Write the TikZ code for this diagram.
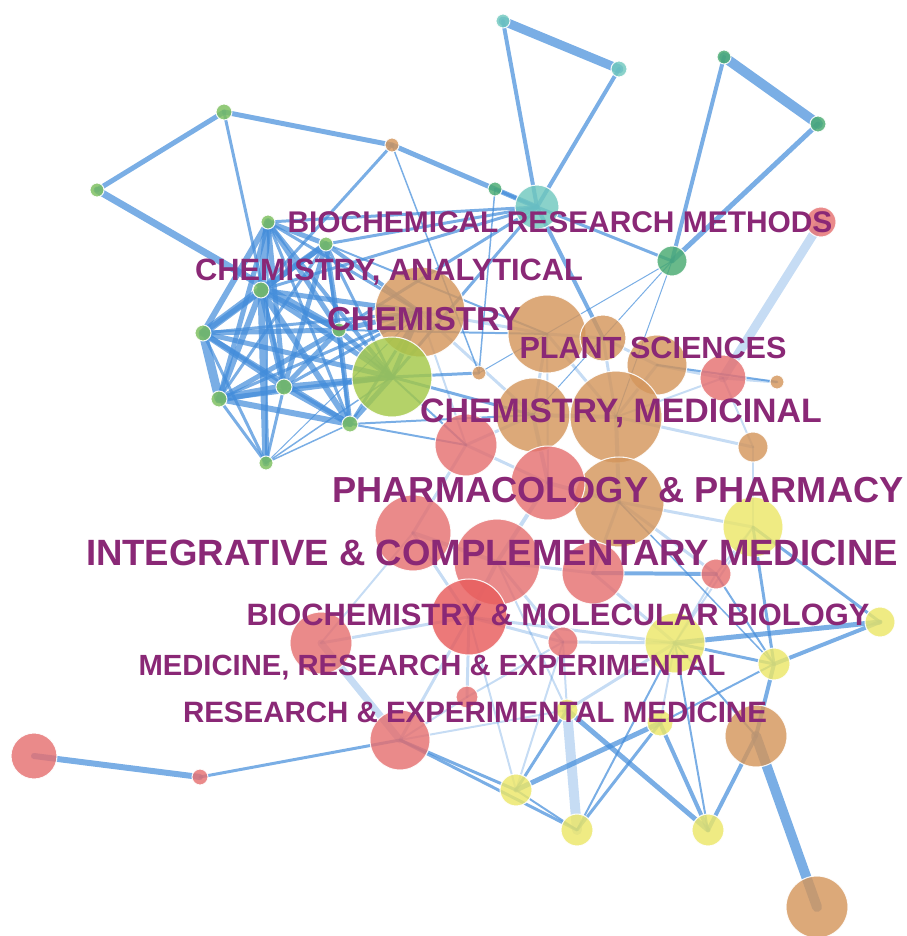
\documentclass[tikz,border=0pt]{standalone}
\usepackage{fontspec}
\setmainfont{Liberation Sans}
\usetikzlibrary{backgrounds}

\definecolor{grn}{RGB}{122,190,92}
\definecolor{ygrn}{RGB}{164,200,72}
\definecolor{tan}{RGB}{212,150,92}
\definecolor{rd}{RGB}{229,112,112}
\definecolor{rdb}{RGB}{232,92,92}
\definecolor{yel}{RGB}{236,230,104}
\definecolor{teal}{RGB}{112,200,190}
\definecolor{dgrn}{RGB}{72,170,112}
\definecolor{edgeblue}{RGB}{66,140,218}
\definecolor{lblpurple}{RGB}{138,40,118}

\newcommand{\fieldlbl}[2]{\resizebox{#1}{!}{#2}}

\tikzset{
  nd/.style={circle, inner sep=0pt, fill opacity=.82, draw=white, draw opacity=.9, line width=.6pt},
  ed/.style={draw=edgeblue, draw opacity=.7, line cap=round},
  el/.style={draw=edgeblue, draw opacity=.3, line cap=round},
  lbl/.style={text=lblpurple, font=\bfseries, inner sep=0pt, anchor=base}
}

\begin{document}
\begin{tikzpicture}[x=0.02cm, y=-0.02cm]
	\useasboundingbox (0,0) rectangle (906,936);
	% nodes (name/x/y/radius/colour)
	\foreach \nm/\x/\y/\r/\c in {
	  g1/97/190/7/grn, g2/224/112/8/grn, g3/268/222/7/grn, g4/326/244/7/grn,
	  g5/261/290/8/grn, g6/203/333/8/grn, g7/219/399/8/grn, g8/284/387/8/grn,
	  g9/350/424/8/grn, g10/266/463/7/grn, g11/339/330/7/grn,
	  t1/392/145/7/tan, tc1/503/21/7/teal, tc2/619/69/8/teal, tc3/537/207/22/teal,
	  dg1/724/57/7/dgrn, dg2/818/124/8/dgrn, dg3/672/261/15/dgrn, dg4/495/189/7/dgrn,
	  r1/821/222/15/rd,
	  t2/420/312/45/tan, t3/547/334/39/tan, t4/603/338/23/tan, t5/657/365/30/tan,
	  t6/533/415/37/tan, t7/616/417/46/tan, t8/619/502/45/tan, t9/479/373/7/tan,
	  t10/753/447/15/tan, t11/777/382/7/tan, t12/756/736/31/tan, t13/817/907/31/tan,
	  yg/392/377/40/ygrn,
	  r2/723/378/23/rd, r3/466/445/31/rd, r4/548/483/37/rd, r5/413/533/38/rd,
	  r6/497/562/43/rd, r7/593/573/31/rd, r8/469/617/38/rdb, r9/321/643/31/rd,
	  r10/563/642/15/rd, r11/716/574/15/rd, r12/467/697/11/rd, r13/400/740/30/rd,
	  r14/34/756/23/rd, r15/200/777/8/rd,
	  y1/753/527/30/yel, y2/880/622/15/yel, y3/675/643/30/yel, y4/774/664/16/yel,
	  y5/567/710/11/yel, y6/660/723/13/yel, y7/516/790/16/yel, y8/577/830/16/yel,
	  y9/708/830/16/yel}
	  \node[nd, fill=\c, minimum size=\r*0.04cm] (\nm) at (\x,\y) {};
	% links
	\begin{scope}[on background layer]
	\foreach \a/\b/\w in {
	  g1/g2/5, g1/g11/7, g2/t1/5, g2/g8/3, t1/tc3/5, t1/t9/1.5,
	  tc1/tc2/9, tc1/tc3/4, tc2/tc3/4, dg1/dg2/10, dg1/dg3/4, dg2/dg3/5,
	  dg4/tc3/3, tc3/dg3/3, tc3/t4/4, dg4/t9/1.5, dg3/t7/1, dg3/t6/1, dg3/t9/1,
	  g3/g5/8, g3/g6/6, g3/g7/5, g3/g8/5, g3/g11/5, g3/g4/5, g3/g9/3,
	  g4/g5/6, g4/g6/5, g4/g8/5, g4/g11/5, g4/yg/3, g4/tc3/3, g3/tc3/3, g5/t1/3,
	  g5/g6/8, g5/g7/6, g5/g8/6, g5/g9/6, g5/g11/5, g5/yg/5,
	  g6/g7/9, g6/g8/6, g6/g9/5, g6/g11/5, g6/yg/5,
	  g7/g8/8, g7/g9/6, g7/g11/5, g7/yg/5, g7/g10/3,
	  g8/g9/6, g8/g11/5, g8/yg/6, g9/yg/5, g9/g11/5,
	  g10/g8/3, g10/g5/7, g10/yg/1.5, g10/g9/1.5, g10/t2/1,
	  g11/yg/5, g11/t2/5, yg/t2/5, g6/t2/3, g5/t2/5, g3/t2/3,
	  g3/yg/4, g4/g9/3, g4/g7/3, g6/g10/3, g3/g10/2, g4/t2/4, g8/t2/3,
	  g7/t2/3, g9/t2/3, g11/tc3/3, g5/tc3/3, yg/tc3/3,
	  g9/t6/2, yg/t9/3, yg/t6/3, yg/r3/2, g9/r3/2, g11/t3/2, g4/t3/2,
	  r14/r15/6, r15/r13/3, r13/y7/3, r13/y8/3,
	  t12/t13/10, t12/y9/4, t12/y4/4, y4/y2/4, y2/y3/5, y2/y1/3,
	  y4/y3/3, y4/y1/3, y8/y6/3, y7/y6/5, y7/y8/2, y7/y5/3,
	  y9/y5/5, y9/y6/4, y8/y3/2, y9/y3/2, y6/y4/2, t12/y3/2,
	  r11/y4/2, t8/y4/1.5, r7/r11/4, t5/t11/2}
	  \draw[ed, line width=\w*0.567pt] (\a.center) -- (\b.center);
	\foreach \a/\b/\w in {
	  r1/r2/9, r2/t11/3, y8/y5/10, r9/r13/7,
	  t2/t3/3, t2/t6/3, t2/r3/2, t3/t6/3, t3/t7/3, t3/t4/3, t4/t5/3,
	  t5/t7/3, t6/t7/4, t7/t8/4, t6/r4/4, r3/r4/3, r3/r5/3, r4/r6/4,
	  r4/t8/4, r5/r6/4, r6/r8/4, r6/r7/3, r7/t8/3, r5/r8/3, r8/r9/3,
	  r8/r13/3, r8/r12/3, r12/r10/2, r8/r10/3, r10/y3/3, r7/y3/3,
	  t8/y1/3, t7/t10/3, t7/r2/2, t5/r2/3, r2/t10/2, t10/y1/2,
	  t8/r11/3, r11/y1/2, r11/y3/2, y1/y3/2, r6/r10/3, r5/r9/2,
	  r13/y5/2, r13/r12/2, y5/y3/3, y6/y3/2, y5/r10/2, r8/y7/2,
	  y7/r10/2, r6/y5/2, y3/r8/3, t6/r3/3, t4/t7/3, t3/r4/2}
	  \draw[el, line width=\w*0.567pt] (\a.center) -- (\b.center);
	\end{scope}
	% field labels
	\node[lbl] (lbiomet) at (560,232) {\fieldlbl{10.9cm}{BIOCHEMICAL RESEARCH METHODS}};
	\node[lbl] (lchemana) at (389,280) {\fieldlbl{7.76cm}{CHEMISTRY, ANALYTICAL}};
	\node[lbl] (lchem) at (424,330) {\fieldlbl{3.88cm}{CHEMISTRY}};
	\node[lbl] (lplant) at (653,358) {\fieldlbl{5.34cm}{PLANT SCIENCES}};
	\node[lbl] (lchemmed) at (621,422) {\fieldlbl{8.04cm}{CHEMISTRY, MEDICINAL}};
	\node[lbl] (lpharm) at (618,502) {\fieldlbl{11.42cm}{PHARMACOLOGY \& PHARMACY}};
	\node[lbl] (lintegr) at (492,565) {\fieldlbl{16.24cm}{INTEGRATIVE \& COMPLEMENTARY MEDICINE}};
	\node[lbl] (lbiomol) at (558,625) {\fieldlbl{12.46cm}{BIOCHEMISTRY \& MOLECULAR BIOLOGY}};
	\node[lbl] (lmedres) at (432,675) {\fieldlbl{11.74cm}{MEDICINE, RESEARCH \& EXPERIMENTAL}};
	\node[lbl] (lresexp) at (475,722) {\fieldlbl{11.68cm}{RESEARCH \& EXPERIMENTAL MEDICINE}};
\end{tikzpicture}
\end{document}
